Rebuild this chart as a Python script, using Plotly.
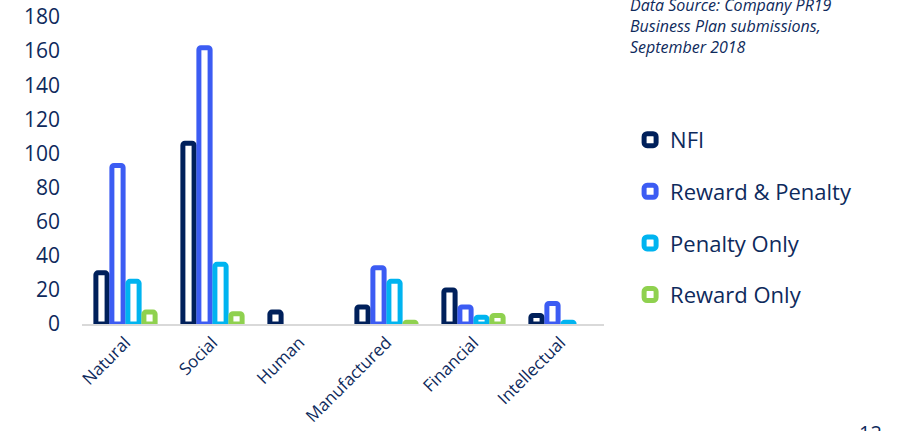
import plotly.graph_objects as go

categories = ["Natural", "Social", "Human", "Manufactured", "Financial", "Intellectual"]
series_names = ["NFI", "Reward & Penalty", "Penalty Only", "Reward Only"]
nfi = [30, 106, 7, 10, 20, 5]
reward_penalty = [93, 162, 0, 33, 10, 12]
penalty_only = [25, 35, 0, 25, 4, 1]
reward_only = [7, 6, 0, 1, 5, 0]
y_ticks = [0, 20, 40, 60, 80, 100, 120, 140, 160, 180]

series_values = [nfi, reward_penalty, penalty_only, reward_only]
colors = ["#00205b", "#3c5cf3", "#00b4f0", "#8fd14f"]
navy = "#0e2a5c"
FONT = "Open Sans"

fig = go.Figure()
for i, (name, vals, col) in enumerate(zip(series_names, series_values, colors)):
    fig.add_trace(go.Bar(
        x=categories, y=[v if v > 0 else None for v in vals], name=name,
        marker=dict(color="white", line=dict(color=col, width=5), cornerradius=2),
        legendgroup=f"g{i}",
    ))

fig.update_layout(
    width=897, height=431,
    margin=dict(l=82, r=293, t=17, b=107, autoexpand=False),
    paper_bgcolor="white", plot_bgcolor="white",
    barmode="group", bargap=0.264, bargroupgap=0.3,
    font=dict(family=FONT, color=navy),
    showlegend=True,
    legend=dict(
        x=1.050, xanchor="left", y=0.668, yanchor="top",
        font=dict(size=22, color=navy, family=FONT),
        tracegroupgap=20, bgcolor="rgba(0,0,0,0)",
    ),
    xaxis=dict(
        showline=True, linecolor="#d9d9d9", linewidth=2,
        showgrid=False, ticks="", tickangle=-45,
        tickfont=dict(size=17, color=navy, family=FONT),
    ),
    yaxis=dict(
        range=[0, 180], tickvals=y_ticks, showgrid=False, zeroline=False,
        showline=False, ticks="", ticklabelstandoff=21, ticklabeloverflow="allow",
        tickfont=dict(size=21, color=navy, family=FONT),
    ),
    annotations=[
        dict(text="<i>Data Source: Company PR19<br>Business Plan submissions,<br>September 2018</i>",
             xref="paper", yref="paper", x=1.046, y=0.971, xanchor="left", yanchor="middle",
             align="left", showarrow=False, font=dict(size=16, color=navy, family=FONT)),
        dict(text="12", xref="paper", yref="paper", x=1.511, y=-0.352, xanchor="center",
             yanchor="middle", showarrow=False, font=dict(size=20, color=navy, family=FONT)),
    ],
)

fig.write_html("out.html", config={"displayModeBar": False},
               post_script="document.body.style.margin='0';")
